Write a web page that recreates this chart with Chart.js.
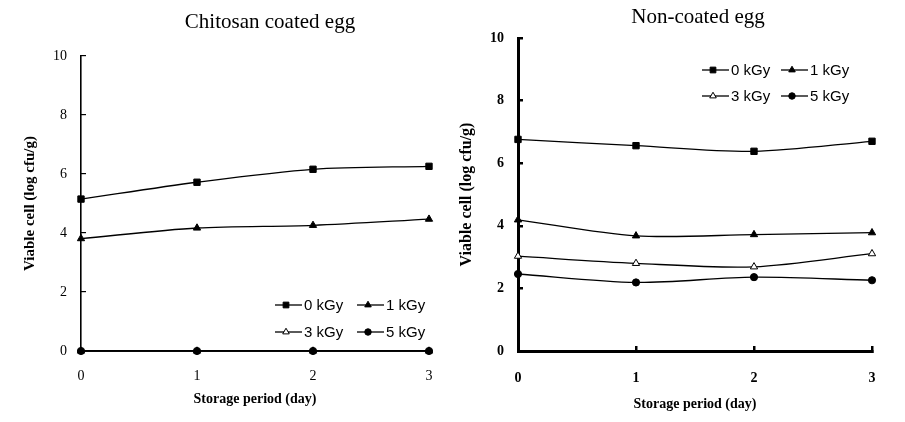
<!DOCTYPE html>
<html>
<head>
<meta charset="utf-8">
<script src="https://cdn.jsdelivr.net/npm/chart.js@4"></script>
<style>
  body { margin: 0; background: #fff; }
  .panel { position: absolute; top: 0; width: 450px; height: 422px; }
</style>
</head>
<body>
<div class="panel" style="left:0"><canvas id="coated"></canvas></div>
<div class="panel" style="left:455px"><canvas id="plain"></canvas></div>
<script>
const days = ['0', '1', '2', '3'];
const doses = ['0 kGy', '1 kGy', '3 kGy', '5 kGy'];

// chitosan coated egg
const coated0 = [5.15, 5.72, 6.16, 6.26];
const coated1 = [3.81, 4.17, 4.26, 4.47];
const coated3 = [0, 0, 0, 0];
const coated5 = [0, 0, 0, 0];

// non-coated egg
const plain0 = [6.76, 6.56, 6.38, 6.70];
const plain1 = [4.19, 3.68, 3.72, 3.78];
const plain3 = [3.03, 2.80, 2.69, 3.11];
const plain5 = [2.46, 2.19, 2.36, 2.26];

const yMin = 0, yMax = 10, yStep = 2;

const serif = "'Liberation Serif', 'DejaVu Serif', serif";
const sans = "'Liberation Sans', Arial, sans-serif";

const markers = [
  { pointStyle: 'rect', radius: 4.5, fill: '#000' },
  { pointStyle: 'triangle', radius: 4.2, fill: '#000' },
  { pointStyle: 'triangle', radius: 4.2, fill: '#fff' },
  { pointStyle: 'circle', radius: 3.6, fill: '#000' },
];

function makeDatasets(series) {
  return series.map((values, i) => ({
    label: doses[i],
    data: values,
    borderColor: '#000',
    borderWidth: 1.3,
    tension: 0.3,
    pointStyle: markers[i].pointStyle,
    pointRadius: markers[i].radius,
    pointBackgroundColor: markers[i].fill,
    pointBorderColor: '#000',
    pointBorderWidth: 1,
    clip: false,
    order: 3 - i,
  }));
}

// title drawn at a given spot of the panel
const panelTitle = {
  id: 'panelTitle',
  afterDraw(chart, args, opts) {
    const ctx = chart.ctx;
    ctx.save();
    ctx.font = opts.font;
    ctx.fillStyle = '#000';
    ctx.textAlign = 'center';
    ctx.textBaseline = 'middle';
    ctx.fillText(opts.text, opts.x, opts.y);
    ctx.restore();
  }
};

// two column legend with a line through each marker
const lineLegend = {
  id: 'lineLegend',
  afterDatasetsDraw(chart, args, opts) {
    const ctx = chart.ctx;
    chart.data.datasets.forEach((ds, i) => {
      const x = opts.x + (i % 2) * opts.colGap;
      const y = opts.y + Math.floor(i / 2) * opts.rowGap;
      ctx.save();
      ctx.strokeStyle = '#000';
      ctx.lineWidth = 1.3;
      ctx.beginPath();
      ctx.moveTo(x, y);
      ctx.lineTo(x + 27, y);
      ctx.stroke();
      ctx.fillStyle = markers[i].fill;
      ctx.lineWidth = 1;
      Chart.helpers.drawPoint(ctx, {
        pointStyle: markers[i].pointStyle,
        radius: markers[i].radius * 0.9,
        rotation: 0,
        borderWidth: 1
      }, x + 11, y);
      ctx.fillStyle = '#000';
      ctx.font = '15px ' + sans;
      ctx.textAlign = 'left';
      ctx.textBaseline = 'middle';
      ctx.fillText(ds.label, x + 29, y + 1);
      ctx.restore();
    });
  }
};

function makeChart(id, series, cfg) {
  return new Chart(document.getElementById(id), {
    type: 'line',
    data: { labels: days, datasets: makeDatasets(series) },
    plugins: [panelTitle, lineLegend],
    options: {
      responsive: true,
      maintainAspectRatio: false,
      animation: false,
      layout: { padding: { top: cfg.top, right: cfg.right, left: 0, bottom: 0 } },
      plugins: {
        legend: { display: false },
        tooltip: { enabled: false },
        panelTitle: cfg.title,
        lineLegend: cfg.legend,
      },
      scales: {
        x: {
          type: 'category',
          offset: false,
          afterFit: s => { s.height = 71; },
          border: { display: true, color: '#000', width: cfg.axisWidth },
          grid: {
            display: true, drawOnChartArea: false,
            drawTicks: cfg.xTicks, tickLength: -5,
            color: '#000', lineWidth: cfg.tickWidth
          },
          ticks: {
            color: '#000', padding: cfg.xPad, maxRotation: 0,
            font: { family: serif, size: 14, weight: cfg.tickWeight }
          },
          title: {
            display: true, text: 'Storage period (day)', color: '#000',
            font: { family: serif, size: 14, weight: 'bold' },
            padding: { top: 0, bottom: cfg.xTitlePad }
          }
        },
        y: {
          min: yMin, max: yMax,
          afterFit: s => { s.width = cfg.yWidth; },
          border: { display: true, color: '#000', width: cfg.axisWidth },
          grid: {
            display: true, drawOnChartArea: false,
            drawTicks: true, tickLength: -5,
            color: '#000', lineWidth: cfg.tickWidth
          },
          ticks: {
            stepSize: yStep, color: '#000', padding: 19,
            font: { family: serif, size: 14, weight: cfg.tickWeight }
          },
          title: {
            display: true, text: 'Viable cell (log cfu/g)', color: '#000',
            font: { family: serif, size: cfg.yTitleSize, weight: 'bold' },
            padding: { top: cfg.yTitlePad, bottom: 0 }
          }
        }
      }
    }
  });
}

makeChart('coated', [coated0, coated1, coated3, coated5], {
  top: 56, right: 21, yWidth: 81,
  axisWidth: 1.6, tickWidth: 1.2, xTicks: false, xPad: 17,
  tickWeight: 'normal', xTitlePad: 14, yTitleSize: 15, yTitlePad: 21,
  title: { text: 'Chitosan coated egg', x: 270, y: 22, font: '21px ' + serif },
  legend: { x: 275, y: 305, colGap: 82, rowGap: 27 }
});

makeChart('plain', [plain0, plain1, plain3, plain5], {
  top: 38, right: 33, yWidth: 63,
  axisWidth: 3, tickWidth: 2.5, xTicks: true, xPad: 24,
  tickWeight: 'bold', xTitlePad: 9, yTitleSize: 16, yTitlePad: 2,
  title: { text: 'Non-coated egg', x: 243, y: 17, font: '21px ' + serif },
  legend: { x: 247, y: 70, colGap: 79, rowGap: 26 }
});
</script>
</body>
</html>
